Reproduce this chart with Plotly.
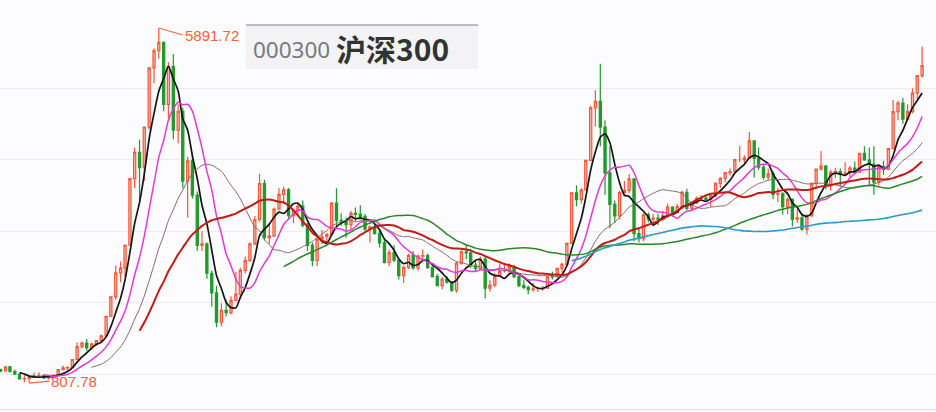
import plotly.graph_objects as go
import pandas as pd

# ---- data: CSI 300 (000300) monthly candles, Jan 2005 .. Jan 2021 ----
months = pd.date_range("2005-01-01", periods=193, freq="MS")

open_ = [1000, 982, 1040, 970, 935, 866, 873, 891, 916, 917, 880, 884,
         923, 1001, 1026, 1032, 1145, 1330, 1381, 1312, 1370, 1417, 1484, 1763,
         2041, 2385, 2453, 2781, 3736, 4110, 3891, 4472, 5321, 5566, 5688, 4799,
         5338, 4430, 4700, 3700, 3990, 3500, 2780, 2800, 2380, 2100, 1680, 1850,
         1817, 1991, 2082, 2422, 2560, 2800, 3146, 3665, 2890, 2915, 3300, 3510,
         3575, 3204, 3281, 3340, 3067, 2780, 2564, 2868, 2903, 2935, 3384, 3137,
         3128, 3077, 3239, 3223, 3195, 3015, 3044, 2949, 2815, 2535, 2676, 2568,
         2346, 2464, 2635, 2455, 2626, 2634, 2462, 2332, 2204, 2294, 2254, 2139,
         2523, 2688, 2673, 2495, 2448, 2582, 2166, 2209, 2337, 2409, 2409, 2476,
         2331, 2202, 2178, 2146, 2158, 2160, 2165, 2339, 2327, 2450, 2508, 2809,
         3533, 3434, 3572, 3996, 4749, 4841, 4473, 3816, 3366, 3202, 3534, 3566,
         3731, 2946, 2877, 3218, 3156, 3169, 3154, 3203, 3327, 3253, 3336, 3538,
         3310, 3387, 3453, 3456, 3439, 3492, 3666, 3737, 3822, 3837, 4006, 4006,
         4030, 4275, 4023, 3898, 3756, 3802, 3510, 3517, 3335, 3438, 3153, 3172,
         3010, 3201, 3669, 3872, 3913, 3630, 3825, 3835, 3799, 3814, 3887, 3828,
         4096, 4003, 3940, 3686, 3912, 3867, 4164, 4695, 4816, 4587, 4695, 4960,
         5211]
high = [1012, 1048, 1052, 1000, 950, 925, 900, 960, 962, 925, 900, 930,
        1005, 1060, 1045, 1150, 1390, 1400, 1440, 1380, 1420, 1500, 1770, 2050,
        2490, 2550, 2790, 3740, 4180, 4290, 4480, 5330, 5600, 5891.72, 5700, 5400,
        5520, 4800, 4750, 4050, 4100, 3550, 2980, 2820, 2420, 2200, 1950, 2000,
        2050, 2400, 2460, 2620, 2820, 3200, 3803, 3720, 3100, 3320, 3600, 3620,
        3600, 3300, 3400, 3420, 3100, 2820, 2880, 3000, 2960, 3400, 3597, 3240,
        3180, 3270, 3320, 3354, 3230, 3060, 3150, 3010, 2880, 2720, 2780, 2580,
        2480, 2660, 2700, 2650, 2720, 2660, 2480, 2370, 2330, 2340, 2270, 2540,
        2710, 2790, 2720, 2560, 2620, 2620, 2280, 2380, 2520, 2500, 2520, 2500,
        2340, 2280, 2200, 2240, 2180, 2200, 2350, 2400, 2460, 2530, 2820, 3540,
        3640, 3600, 4010, 4780, 5000, 5380, 4570, 4200, 3420, 3560, 3700, 3800,
        3730, 3030, 3240, 3250, 3230, 3230, 3270, 3380, 3340, 3370, 3560, 3590,
        3400, 3480, 3500, 3510, 3500, 3680, 3760, 3830, 3880, 4020, 4203, 4070,
        4403, 4280, 4180, 3950, 3880, 3840, 3600, 3540, 3460, 3450, 3290, 3220,
        3230, 3680, 3880, 4127, 3930, 3860, 3890, 3880, 3970, 3920, 3980, 4100,
        4200, 4180, 4200, 3920, 3990, 4170, 4860, 4850, 4890, 4800, 5030, 5220,
        5626]
low = [962, 970, 965, 925, 860, 820, 807.78, 880, 905, 866, 858, 876,
       920, 995, 990, 1030, 1140, 1300, 1270, 1280, 1340, 1400, 1480, 1760,
       2000, 2250, 2330, 2780, 3600, 3400, 3700, 4440, 5100, 5450, 4700, 4600,
       4300, 4240, 3600, 3180, 3450, 2700, 2700, 2300, 1900, 1606, 1620, 1760,
       1790, 1980, 2020, 2380, 2550, 2780, 3120, 2850, 2800, 2900, 3280, 3400,
       3150, 3100, 3200, 3040, 2700, 2480, 2480, 2800, 2800, 2930, 3050, 3060,
       2890, 3000, 3120, 3150, 2980, 2820, 2930, 2750, 2520, 2480, 2540, 2290,
       2240, 2440, 2430, 2420, 2580, 2440, 2320, 2200, 2150, 2230, 2110, 2100,
       2500, 2580, 2450, 2400, 2440, 2023, 2120, 2180, 2330, 2390, 2350, 2310,
       2180, 2150, 2080, 2120, 2110, 2130, 2160, 2290, 2320, 2390, 2480, 2800,
       3340, 3380, 3560, 3990, 4480, 4200, 3500, 3025, 3100, 3150, 3500, 3530,
       2840, 2820, 2840, 3110, 3050, 3070, 3140, 3180, 3190, 3240, 3300, 3280,
       3280, 3370, 3410, 3410, 3330, 3470, 3600, 3680, 3780, 3830, 3970, 3950,
       4030, 3750, 3860, 3720, 3710, 3440, 3400, 3220, 3230, 3050, 3100, 2990,
       2935, 3190, 3600, 3850, 3580, 3560, 3740, 3620, 3780, 3760, 3820, 3820,
       3990, 3650, 3503, 3640, 3790, 3860, 4160, 4570, 4520, 4570, 4670, 4880,
       5180]
close = [982, 1040, 970, 935, 866, 873, 891, 916, 917, 880, 884, 923,
         1001, 1026, 1032, 1145, 1330, 1381, 1312, 1370, 1417, 1484, 1763, 2041,
         2385, 2453, 2781, 3736, 4110, 3891, 4472, 5321, 5566, 5688, 4799, 5338,
         4430, 4700, 3700, 3990, 3500, 2780, 2800, 2380, 2100, 1680, 1850, 1817,
         1991, 2082, 2422, 2560, 2800, 3146, 3665, 2890, 2915, 3300, 3510, 3575,
         3204, 3281, 3340, 3067, 2780, 2564, 2868, 2903, 2935, 3384, 3137, 3128,
         3077, 3239, 3223, 3195, 3015, 3044, 2949, 2815, 2535, 2676, 2568, 2346,
         2464, 2635, 2455, 2626, 2634, 2462, 2332, 2204, 2294, 2254, 2139, 2523,
         2688, 2673, 2495, 2448, 2582, 2166, 2209, 2337, 2409, 2409, 2476, 2331,
         2202, 2178, 2146, 2158, 2160, 2165, 2339, 2327, 2450, 2508, 2809, 3533,
         3434, 3572, 3996, 4749, 4841, 4473, 3816, 3366, 3202, 3534, 3566, 3731,
         2946, 2877, 3218, 3156, 3169, 3154, 3203, 3327, 3253, 3336, 3538, 3310,
         3387, 3453, 3456, 3439, 3492, 3666, 3737, 3822, 3837, 4006, 4006, 4030,
         4275, 4023, 3898, 3756, 3802, 3510, 3517, 3335, 3438, 3153, 3172, 3010,
         3201, 3669, 3872, 3913, 3630, 3825, 3835, 3799, 3814, 3887, 3828, 4096,
         4003, 3940, 3686, 3912, 3867, 4164, 4695, 4816, 4587, 4695, 4960, 5211,
         5352]

ma_periods = [5, 10, 20, 30, 60, 120]
ma_colors = ["#151515", "#e23ad6", "#8a6560", "#c41a16", "#2b862b", "#2a9cc6"]
ma_widths = [1.7, 1.5, 1.0, 2.0, 1.5, 1.6]

peak_label = "5891.72"
low_label = "807.78"
code_label = "000300"
name_label = "沪深300"

# ---- figure ----
W, H = 936, 412
PLOT_H = 409

fig = go.Figure()
fig.add_trace(go.Candlestick(
    x=months, open=open_, high=high, low=low, close=close,
    increasing=dict(line=dict(color="#f2583a", width=1.2), fillcolor="rgba(248,150,128,0.6)"),
    decreasing=dict(line=dict(color="#1f9a2c", width=1.2), fillcolor="#1f9a2c"),
    whiskerwidth=0, showlegend=False, hoverinfo="skip",
))

cs = pd.Series(close, dtype=float)
for n, col, w in zip(ma_periods, ma_colors, ma_widths):
    fig.add_trace(go.Scatter(
        x=months, y=cs.rolling(n).mean(), mode="lines",
        line=dict(color=col, width=w, shape="spline", smoothing=0.6),
        showlegend=False, hoverinfo="skip",
    ))

i_peak = high.index(max(high))
i_low = low.index(min(low))

fig.add_annotation(x=months[i_peak], y=high[i_peak], text=peak_label,
                   xanchor="left", yanchor="middle", ax=24, ay=7,
                   showarrow=True, arrowhead=0, arrowwidth=1.2, arrowcolor="#f06a3a",
                   font=dict(family="Liberation Sans, Arial", size=15, color="#f0643a"))
fig.add_annotation(x=months[i_low], y=low[i_low], text=low_label,
                   xanchor="left", yanchor="middle", ax=20, ay=-2,
                   showarrow=True, arrowhead=0, arrowwidth=1.2, arrowcolor="#f06a3a",
                   font=dict(family="Liberation Sans, Arial", size=15, color="#f0643a"))

# title box
def py(px):
    return (PLOT_H - px) / PLOT_H

fig.add_shape(type="rect", xref="paper", yref="paper",
              x0=246 / W, x1=478 / W, y0=py(69), y1=py(25),
              fillcolor="#f3f3f5", line=dict(width=0), layer="above")
fig.add_shape(type="line", xref="paper", yref="paper",
              x0=246 / W, x1=478 / W, y0=py(25), y1=py(25),
              line=dict(color="#a8a8aa", width=1.5), layer="above")
fig.add_annotation(xref="paper", yref="paper", x=251 / W, y=py(49),
                   xanchor="left", yanchor="middle", showarrow=False,
                   text=code_label,
                   font=dict(family="Noto Sans", size=22.5, color="#7a7a7a"))
fig.add_annotation(xref="paper", yref="paper", x=334 / W, y=py(48),
                   xanchor="left", yanchor="middle", showarrow=False,
                   text="<b>" + name_label + "</b>",
                   font=dict(family="Noto Sans CJK SC", size=30, color="#333333"))

GRID_BASE, GRID_STEP = 937, 1023.5
fig.update_layout(
    width=W, height=H,
    margin=dict(l=0, r=0, t=0, b=H - PLOT_H),
    paper_bgcolor="#fcfbfd", plot_bgcolor="#fcfbfd",
    xaxis=dict(type="date", range=["2004-12-28", "2021-03-30"],
               showgrid=False, showticklabels=False, zeroline=False,
               rangeslider=dict(visible=False),
               showline=True, linecolor="#dedede", linewidth=1, mirror=False),
    yaxis=dict(range=[436, 6293], showticklabels=False, zeroline=False,
               tickvals=[GRID_BASE + GRID_STEP * k for k in range(5)],
               showgrid=True, gridcolor="#ececef", gridwidth=1),
)

fig.write_html("out.html", config={"displayModeBar": False},
               post_script="document.body.style.margin='0';document.body.style.background='#fcfbfd';")
